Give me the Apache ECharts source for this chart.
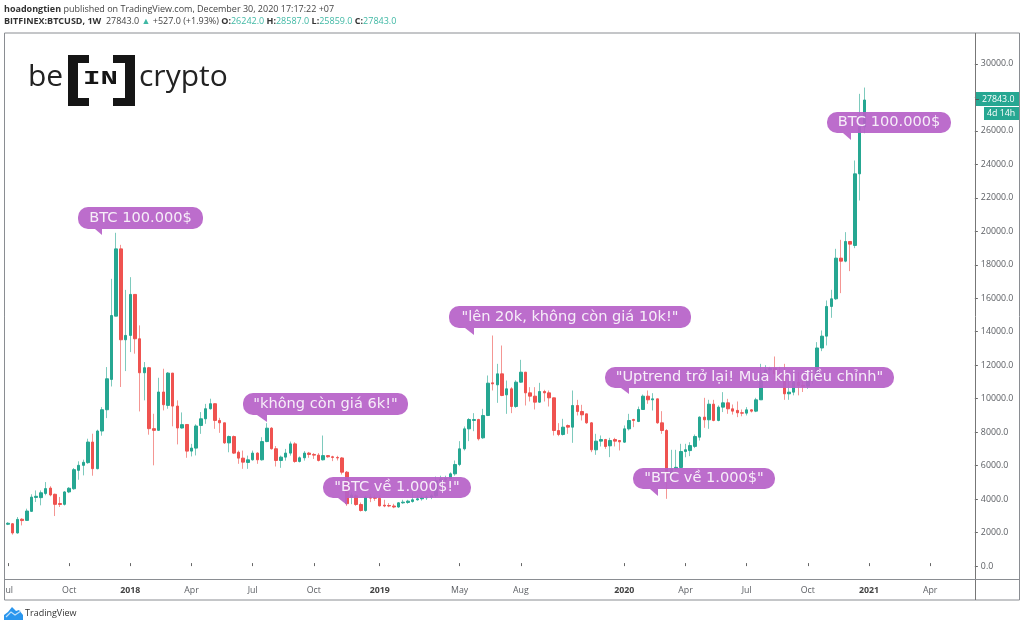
<!DOCTYPE html>
<html><head><meta charset="utf-8">
<style>html,body{margin:0;padding:0;background:#fff}#c{width:1024px;height:627px}</style>
<script src="https://cdn.jsdelivr.net/npm/echarts@6/dist/echarts.min.js"></script>
</head><body><div id="c"></div>
<script>
const opens=[2500,2530,1980,2800,2730,3270,4100,4090,4340,4660,4290,3740,3690,4430,4620,5720,6020,6180,7410,5820,8070,9340,11150,14930,18950,13520,13780,16230,13580,11550,11850,8210,8110,10400,9600,11530,9560,8250,8460,6870,7050,
8400,8800,9400,9700,8700,8560,7360,7740,6800,6450,6190,6350,6750,6350,7440,8240,7010,6310,6510,6750,7300,6250,6470,6750,6670,6630,6350,6600,6530,6490,6460,5610,4100,4200,3680,3320,4120,4100,4050,3640,3620,3590,3530,3780,3800,3860,3960,4020,4080,4120,4200,
5100,5150,5220,5512,6070,7006,8200,8700,8758,7662,8997,10948,10828,11485,10231,10590,9534,10988,11584,10350,10151,9793,10430,10350,10052,8100,7862,8399,8300,9594,9236,9096,8559,6946,7464,7563,7185,7563,7503,7404,8200,8758,8638,9355,10151,9933,9992,8559,8100,
5360,5800,5890,6846,6900,7150,7700,8898,8739,9674,8700,9495,9754,9396,9300,9157,9137,9336,9256,9933,11486,11725,11800,11486,11486,10292,10390,10990,10790,10750,11090,11150,13030,13737,15510,15967,18396,18216,19392,19153,23433,26242];
const highs=[2620,2570,2930,2860,3430,4290,4520,4520,5020,4770,4330,4130,4480,4720,5860,6260,6360,7610,7910,8150,9500,11890,17160,19910,19190,16500,17260,16230,14380,12190,11900,9100,11250,11790,11590,11530,9900,9180,8460,7300,8470,
9200,9690,10000,9720,8860,8560,7800,7800,6900,6900,6600,6900,6800,7700,8540,8300,7170,6600,7000,7440,7400,6550,6870,6820,6750,6750,7800,6630,6590,6590,6510,5680,4400,4300,3800,4220,4320,4220,4220,3960,3760,3720,3820,3960,3960,4417,4220,4220,4220,4300,5350,
5400,5400,5600,6309,7464,8340,8837,9136,8800,9395,11386,13775,12083,13178,11087,10689,11100,12322,11600,10689,10689,10948,10530,10490,10060,8539,8798,8459,10490,9932,9634,9100,8600,7902,7802,7600,7662,7662,7520,8400,9096,8800,9530,10250,10490,10330,10000,9255,8180,
6946,6946,7305,7305,7400,7862,8950,10052,9933,9933,9600,10391,9993,9654,9834,9355,9495,9375,10052,12083,12000,11900,12521,11900,12083,11087,11486,11600,11100,11580,11400,13379,14075,15867,16505,18953,19491,19949,19400,24230,28212,28587];
const lows=[2450,1880,1940,2430,2730,3240,3830,3630,4230,4170,2990,3530,3620,4360,4560,5160,5420,6110,5400,5780,7790,8840,10730,14930,10700,11650,12785,12690,9240,9900,7850,6020,8100,9300,9400,8350,7270,8210,6470,6550,6610,
7900,8500,9350,8200,7960,7300,6800,6700,6110,5810,5810,6300,6110,6300,7400,6960,5950,5870,6300,6600,6170,6190,6300,6470,6400,6250,6310,6470,6270,6310,5470,3600,3700,3600,3260,3250,3820,3900,3560,3520,3520,3460,3480,3720,3720,3790,3910,3910,3950,4000,4100,
4950,4950,5200,5400,5970,6906,7464,8060,7503,7600,8960,10490,9753,10150,9096,9136,9455,10950,9594,9833,9355,9750,9833,9534,7802,7762,7800,7900,7364,8997,8698,8500,6807,6647,7145,7006,6508,7145,6906,7364,8100,8300,8600,9340,9693,9295,8500,7902,4019,
5000,5700,5850,6500,6568,7050,7500,8260,8200,8650,8650,9200,9097,9050,8898,8950,9000,9177,9197,9933,11400,11400,11100,11300,9933,9933,10200,10200,10400,10590,10900,11100,12841,13179,14832,15900,16305,18150,17620,18993,21840,25859];
const closes=[2560,1980,2790,2720,3290,4120,4170,4380,4630,4250,3690,3680,4430,4650,5760,6020,6200,7410,5820,8070,9340,11190,14970,18950,13520,13780,16230,13580,11550,11850,8210,8110,10400,9640,11530,9560,8250,8450,6870,7050,8370,
8800,9400,9700,8700,8560,7360,7740,6750,6450,6210,6350,6750,6350,7440,8240,7010,6310,6510,6750,7300,6250,6470,6750,6670,6630,6310,6600,6530,6490,6460,5610,3730,4250,3680,3320,4120,4060,4050,3600,3590,3590,3530,3780,3820,3880,3960,4020,4080,4120,4200,5100,
5200,5230,5512,6070,7006,8200,8758,8758,7603,8997,10928,10888,11485,10191,10590,9534,10988,11584,10350,10151,9793,10430,10350,10052,8100,7862,8300,8300,9594,9236,9037,8559,6946,7464,7563,7145,7503,7464,7424,8200,8698,8698,9355,10151,9933,9992,8559,8100,5360,
5812,5900,6846,6950,7200,7743,8898,8739,9674,8700,9495,9754,9396,9256,9157,9137,9336,9256,9933,11486,11725,11800,11486,11400,10292,10390,10990,10790,10750,11090,11150,13030,13737,15510,15967,18396,18216,19392,19232,23433,26242,27843];
const axisBands=206;
const tickIndex=[0,13,26,39,52,65,79,96,109,131,144,157,170,183,196];
const tickLabels=['Jul','Oct','2018','Apr','Jul','Oct','2019','May','Aug','2020','Apr','Jul','Oct','2021','Apr'];
const priceTicks=[0,2000,4000,6000,8000,10000,12000,14000,16000,18000,20000,22000,24000,26000,28000,30000];
const notes=[
 {t:'BTC 100.000$',x:78,y:207,w:125,h:22,tail:[95,102,102,235]},
 {t:'"không còn giá 6k!"',x:243,y:393,w:165,h:22,tail:[257,267,267,422]},
 {t:'"BTC về 1.000$!"',x:323,y:477,w:148,h:21,tail:[338,347,347,505]},
 {t:'"lên 20k, không còn giá 10k!"',x:449,y:306,w:242,h:22,tail:[465,474,474,335]},
 {t:'"Uptrend trở lại! Mua khi điều chỉnh"',x:605,y:367,w:289,h:21,tail:[621,629,629,394]},
 {t:'"BTC về 1.000$"',x:633,y:468,w:142,h:21,tail:[650,658,658,496]},
 {t:'BTC 100.000$',x:827,y:112,w:124,h:21,tail:[843,851,851,140]}
];

const cats=[];const d0=Date.UTC(2017,6,3);
for(let i=0;i<axisBands;i++)cats.push(new Date(d0+i*7*864e5).toISOString().slice(0,10));
const labelAt={};tickIndex.forEach((k,i)=>labelAt[k]=tickLabels[i]);
const UP='#26a792',DN='#ef5350',AX='#8a8d92',TXT='#5b5e63',HDR='#3fb8a4';
const full=opens.map((o,i)=>[o,closes[i],lows[i],highs[i]]);
const bodies=opens.map((o,i)=>[o,closes[i],Math.min(o,closes[i]),Math.max(o,closes[i])]);

const g=[];
g.push({type:'rect',z:1,shape:{x:4.5,y:33,width:1015,height:567},style:{fill:'none',stroke:AX,lineWidth:1}});
g.push({type:'rect',z:50,shape:{x:0,y:581,width:4,height:18},style:{fill:'#fff'}});
g.push({type:'line',z:51,shape:{x1:4.5,y1:33,x2:4.5,y2:600},style:{stroke:AX,lineWidth:1}});
g.push({type:'line',z:51,shape:{x1:975.5,y1:33,x2:975.5,y2:600},style:{stroke:'#777',lineWidth:1}});
g.push({type:'line',z:51,shape:{x1:4.5,y1:579.5,x2:1019.5,y2:579.5},style:{stroke:AX,lineWidth:1}});
g.push({type:'text',z:60,x:4,y:5,style:{font:'9px "Open Sans"',fill:'#444',text:'{b|hoadongtien} published on TradingView.com, December 30, 2020 17:17:22 +07',rich:{b:{font:'bold 9px "Open Sans"',fill:'#333'}}}});
g.push({type:'text',z:60,x:4,y:17,style:{font:'9px "Open Sans"',fill:'#444',
 text:'{b|BITFINEX:BTCUSD, 1W}  27843.0 {g|▲} +527.0 (+1.93%) {b|O:}{g|26242.0} {b|H:}{g|28587.0} {b|L:}{g|25859.0} {b|C:}{g|27843.0}',
 rich:{b:{font:'bold 9px "Open Sans"',fill:'#333'},g:{font:'9px "Open Sans"',fill:HDR}}}});
g.push({type:'text',z:60,x:28,y:62,style:{font:'400 30px "Open Sans"',fill:'#222',text:'be'}});
g.push({type:'text',z:60,x:139,y:62,style:{font:'400 30px "Open Sans"',fill:'#222',text:'crypto'}});
[[68,55,21,8],[68,98,21,8],[68,55,10,51],[113,55,22,8],[113,98,22,8],[125,55,10,51]].forEach(r=>g.push({type:'rect',z:60,shape:{x:r[0],y:r[1],width:r[2],height:r[3]},style:{fill:'#151515'}}));
g.push({type:'text',z:60,x:100.5,y:79,scaleX:1.45,style:{font:'bold 20px "Liberation Mono"',fill:'#151515',text:'IN',align:'center',verticalAlign:'middle'}});
g.push({type:'rect',z:60,shape:{x:976,y:92,width:43,height:14},style:{fill:'#26a792'}});
g.push({type:'rect',z:60,shape:{x:984,y:107,width:35,height:13},style:{fill:'#26a792'}});
g.push({type:'line',z:60,shape:{x1:975.5,y1:99.5,x2:979,y2:99.5},style:{stroke:'#555'}});
g.push({type:'text',z:61,x:982,y:99,style:{font:'8.8px "Open Sans"',fill:'#fff',text:'27843.0',verticalAlign:'middle'}});
g.push({type:'text',z:61,x:987,y:113.5,style:{font:'8.8px "Open Sans"',fill:'#fff',text:'4d 14h',verticalAlign:'middle'}});
notes.forEach(n=>{
 g.push({type:'polygon',z:70,shape:{points:[[n.tail[0],n.y+n.h],[n.tail[1],n.y+n.h],[n.tail[2],n.tail[3]]]},style:{fill:'rgba(183,98,200,0.93)'}});
 g.push({type:'rect',z:70,shape:{x:n.x,y:n.y,width:n.w,height:n.h,r:10},style:{fill:'rgba(183,98,200,0.93)'}});
 g.push({type:'text',z:71,x:n.x+n.w/2,y:n.y+n.h/2,style:{font:'14.6px "DejaVu Sans"',fill:'#f6edf8',text:n.t,align:'center',verticalAlign:'middle'}});
});
g.push({type:'polygon',z:60,shape:{points:[[4,620],[4,615],[8,612],[12,607],[16,611],[19,610],[23,615],[23,620]]},style:{fill:'#2a96ee'}});
g.push({type:'polyline',z:61,shape:{points:[[6,617],[11,612],[15,615],[21,611]]},style:{stroke:'#bfe0fa',fill:'none',lineWidth:1.2}});
g.push({type:'text',z:60,x:25,y:613.5,style:{font:'9px "Open Sans"',fill:'#333',text:'TradingView',verticalAlign:'middle'}});

const chart=echarts.init(document.getElementById('c'),null,{renderer:'canvas'});
chart.setOption({
 animation:false,backgroundColor:'#fff',
 grid:{left:5.65,top:33.5,width:969.2,height:546,containLabel:false},
 graphic:g,
 xAxis:{type:'category',data:cats,boundaryGap:true,
  axisLine:{show:false},splitLine:{show:false},
  axisTick:{show:true,alignWithLabel:true,length:3,inside:true,interval:(i)=>labelAt[i]!==undefined,lineStyle:{color:'#666'}},
  axisLabel:{interval:(i)=>labelAt[i]!==undefined,margin:6,hideOverlap:false,
   fontFamily:'Open Sans',fontSize:8.8,color:TXT,
   formatter:(v,i)=>{const l=labelAt[i]||'';return /^\d+$/.test(l)?'{y|'+l+'}':l;},
   rich:{y:{fontFamily:'Open Sans',fontSize:8.8,fontWeight:'bold',color:'#444'}}}},
 yAxis:{type:'value',position:'right',min:-800.5,max:31816,
  axisLine:{show:false},splitLine:{show:false},
  axisTick:{show:true,length:3,customValues:priceTicks,lineStyle:{color:'#666'}},
  axisLabel:{customValues:priceTicks,margin:6,fontFamily:'Open Sans',fontSize:8.8,color:TXT,formatter:v=>v.toFixed(1)}},
 series:[
  {type:'candlestick',name:'wick',data:full,barWidth:1,z:2,
   itemStyle:{color:'#7ecabd',color0:'#f49693',borderColor:'#7ecabd',borderColor0:'#f49693',borderWidth:1}},
  {type:'candlestick',name:'body',data:bodies,barWidth:3,z:3,
   itemStyle:{color:UP,color0:DN,borderColor:UP,borderColor0:DN,borderWidth:1}}
 ]
});
</script></body></html>
